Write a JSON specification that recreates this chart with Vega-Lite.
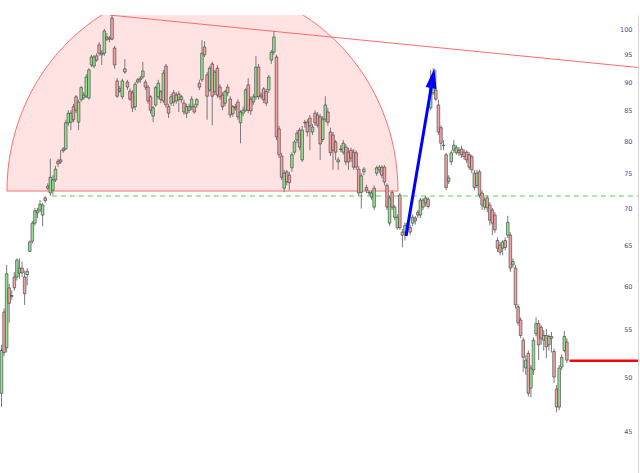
{
"$schema": "https://vega.github.io/schema/vega-lite/v6.json",
"width": 638, "height": 458,
"autosize": "none",
"padding": {"top": 15, "left": 0, "right": 2, "bottom": 0},
"background": "white",
"config": {"view": {"stroke": null},
"axisY": {"title": null, "ticks": false, "tickSize": 0, "grid": false, "domain": true, "domainColor": "#d4d4d4", "domainWidth": 1, "labelPadding": -6, "labelAlign": "right", "labelBaseline": "middle", "labelFontSize": 6.5, "labelFont": "DejaVu Sans", "labelColor": "#4848a8", "labelOverlap": false, "labelFlush": false}},
"datasets": {
"candles": [
{"t":1,"o":48.5,"h":53.4,"l":47.2,"c":52.8},
{"t":2,"o":57.0,"h":57.4,"l":52.2,"c":52.6},
{"t":3,"o":53.1,"h":62.6,"l":52.6,"c":61.5},
{"t":4,"o":59.8,"h":60.3,"l":55.8,"c":58.0},
{"t":5,"o":58.8,"h":59.5,"l":58.4,"c":58.9},
{"t":6,"o":61.1,"h":61.7,"l":59.5,"c":59.8},
{"t":7,"o":61.1,"h":63.4,"l":60.7,"c":63.2},
{"t":8,"o":61.6,"h":63.4,"l":60.9,"c":62.2},
{"t":9,"o":62.2,"h":63.0,"l":61.1,"c":61.6},
{"t":10,"o":61.1,"h":61.9,"l":57.8,"c":59.1},
{"t":11,"o":61.4,"h":62.2,"l":60.1,"c":61.8},
{"t":12,"o":64.3,"h":65.7,"l":64.2,"c":65.5},
{"t":13,"o":65.6,"h":68.3,"l":65.3,"c":68.0},
{"t":14,"o":68.0,"h":70.1,"l":67.7,"c":69.7},
{"t":15,"o":69.4,"h":70.1,"l":68.7,"c":69.7},
{"t":16,"o":69.8,"h":71.2,"l":69.5,"c":70.6},
{"t":17,"o":69.1,"h":70.8,"l":67.6,"c":70.5},
{"t":18,"o":71.5,"h":71.8,"l":70.8,"c":71.1},
{"t":19,"o":72.9,"h":73.6,"l":72.6,"c":73.2},
{"t":20,"o":72.2,"h":77.3,"l":71.8,"c":74.5},
{"t":21,"o":72.6,"h":74.8,"l":71.9,"c":74.1},
{"t":22,"o":74.1,"h":76.2,"l":73.8,"c":75.7},
{"t":23,"o":76.9,"h":77.3,"l":76.0,"c":76.5},
{"t":24,"o":77.1,"h":78.6,"l":76.5,"c":76.8},
{"t":25,"o":78.8,"h":79.1,"l":78.2,"c":78.5},
{"t":26,"o":78.8,"h":83.5,"l":78.6,"c":83.0},
{"t":27,"o":83.0,"h":85.1,"l":82.5,"c":84.6},
{"t":28,"o":83.1,"h":85.1,"l":81.8,"c":84.6},
{"t":29,"o":85.7,"h":86.2,"l":83.1,"c":83.5},
{"t":30,"o":87.4,"h":87.7,"l":84.6,"c":85.1},
{"t":31,"o":83.1,"h":86.9,"l":81.8,"c":86.5},
{"t":32,"o":86.9,"h":89.3,"l":86.5,"c":89.0},
{"t":33,"o":87.2,"h":88.2,"l":86.9,"c":87.7},
{"t":34,"o":87.5,"h":91.4,"l":87.2,"c":90.9},
{"t":35,"o":87.2,"h":92.5,"l":86.9,"c":92.2},
{"t":36,"o":93.1,"h":95.0,"l":92.7,"c":94.6},
{"t":37,"o":92.9,"h":95.0,"l":92.5,"c":94.6},
{"t":38,"o":94.8,"h":95.3,"l":93.7,"c":94.0},
{"t":39,"o":96.9,"h":97.4,"l":94.8,"c":95.3},
{"t":40,"o":95.0,"h":95.9,"l":93.1,"c":95.3},
{"t":41,"o":95.3,"h":100.0,"l":94.8,"c":99.6},
{"t":42,"o":98.4,"h":99.2,"l":97.6,"c":98.0},
{"t":43,"o":98.0,"h":98.6,"l":97.4,"c":98.2},
{"t":44,"o":102.2,"h":102.8,"l":97.8,"c":98.0},
{"t":45,"o":96.3,"h":96.7,"l":92.4,"c":93.1},
{"t":46,"o":90.2,"h":90.7,"l":87.2,"c":87.5},
{"t":47,"o":88.4,"h":89.3,"l":88.1,"c":88.8},
{"t":48,"o":87.4,"h":90.6,"l":87.0,"c":90.2},
{"t":49,"o":92.4,"h":94.2,"l":91.5,"c":91.8},
{"t":50,"o":90.0,"h":90.4,"l":88.6,"c":89.1},
{"t":51,"o":88.4,"h":88.9,"l":86.7,"c":87.0},
{"t":52,"o":88.1,"h":88.6,"l":84.8,"c":85.5},
{"t":53,"o":85.7,"h":90.0,"l":85.1,"c":89.6},
{"t":54,"o":90.0,"h":90.7,"l":89.7,"c":90.4},
{"t":55,"o":90.7,"h":91.1,"l":89.8,"c":90.4},
{"t":56,"o":90.9,"h":93.7,"l":90.6,"c":92.0},
{"t":57,"o":90.0,"h":90.4,"l":88.6,"c":89.1},
{"t":58,"o":89.1,"h":89.5,"l":86.2,"c":86.7},
{"t":59,"o":87.4,"h":87.7,"l":84.5,"c":85.1},
{"t":60,"o":84.1,"h":85.8,"l":83.1,"c":85.5},
{"t":61,"o":86.0,"h":89.3,"l":85.7,"c":89.0},
{"t":62,"o":87.4,"h":90.4,"l":87.0,"c":89.8},
{"t":63,"o":88.3,"h":88.6,"l":86.3,"c":86.9},
{"t":64,"o":86.7,"h":92.2,"l":86.3,"c":91.6},
{"t":65,"o":92.9,"h":93.3,"l":85.5,"c":86.0},
{"t":66,"o":85.7,"h":86.2,"l":83.8,"c":84.6},
{"t":67,"o":86.3,"h":87.9,"l":85.8,"c":87.4},
{"t":68,"o":88.1,"h":88.6,"l":85.8,"c":86.5},
{"t":69,"o":86.7,"h":88.2,"l":86.2,"c":87.7},
{"t":70,"o":87.9,"h":88.4,"l":84.8,"c":86.9},
{"t":71,"o":86.9,"h":87.7,"l":86.3,"c":87.4},
{"t":72,"o":86.3,"h":86.9,"l":84.3,"c":84.8},
{"t":73,"o":84.6,"h":86.2,"l":83.8,"c":85.7},
{"t":74,"o":85.1,"h":86.2,"l":84.6,"c":85.7},
{"t":75,"o":85.7,"h":87.5,"l":85.1,"c":87.0},
{"t":76,"o":85.7,"h":86.2,"l":84.5,"c":84.8},
{"t":77,"o":86.0,"h":87.2,"l":85.5,"c":86.9},
{"t":78,"o":89.8,"h":90.4,"l":88.6,"c":89.1},
{"t":79,"o":90.4,"h":97.8,"l":90.0,"c":95.3},
{"t":80,"o":96.5,"h":97.6,"l":94.6,"c":95.0},
{"t":81,"o":91.3,"h":91.8,"l":83.5,"c":87.5},
{"t":82,"o":88.6,"h":92.9,"l":88.3,"c":92.5},
{"t":83,"o":93.3,"h":93.7,"l":82.6,"c":87.5},
{"t":84,"o":88.3,"h":92.2,"l":87.7,"c":91.8},
{"t":85,"o":92.5,"h":93.1,"l":87.2,"c":87.7},
{"t":86,"o":89.1,"h":89.6,"l":86.9,"c":87.4},
{"t":87,"o":87.7,"h":88.2,"l":85.1,"c":85.7},
{"t":88,"o":86.3,"h":88.6,"l":85.8,"c":88.3},
{"t":89,"o":89.1,"h":89.6,"l":87.5,"c":88.1},
{"t":90,"o":87.0,"h":87.5,"l":83.8,"c":84.3},
{"t":91,"o":84.5,"h":86.0,"l":84.0,"c":85.7},
{"t":92,"o":85.7,"h":86.2,"l":85.0,"c":85.5},
{"t":93,"o":86.5,"h":87.0,"l":83.5,"c":84.0},
{"t":94,"o":83.0,"h":85.1,"l":79.7,"c":84.8},
{"t":95,"o":84.6,"h":85.7,"l":84.1,"c":85.1},
{"t":96,"o":85.1,"h":88.9,"l":84.8,"c":88.6},
{"t":97,"o":89.5,"h":90.7,"l":84.6,"c":85.1},
{"t":98,"o":87.0,"h":87.5,"l":84.3,"c":85.0},
{"t":99,"o":86.5,"h":87.9,"l":86.0,"c":87.4},
{"t":100,"o":87.4,"h":94.8,"l":86.9,"c":92.7},
{"t":101,"o":92.7,"h":93.3,"l":86.9,"c":87.4},
{"t":102,"o":87.4,"h":88.2,"l":87.0,"c":87.7},
{"t":103,"o":88.8,"h":89.1,"l":86.3,"c":86.9},
{"t":104,"o":88.3,"h":88.8,"l":85.8,"c":86.3},
{"t":105,"o":88.6,"h":91.3,"l":88.1,"c":90.9},
{"t":106,"o":94.0,"h":95.9,"l":93.3,"c":95.5},
{"t":107,"o":95.5,"h":99.6,"l":95.0,"c":98.4},
{"t":108,"o":94.6,"h":95.0,"l":80.2,"c":80.7},
{"t":109,"o":82.0,"h":82.5,"l":77.4,"c":77.9},
{"t":110,"o":77.7,"h":78.2,"l":74.1,"c":74.5},
{"t":111,"o":72.9,"h":75.6,"l":72.3,"c":75.1},
{"t":112,"o":75.3,"h":75.6,"l":73.3,"c":73.8},
{"t":113,"o":74.8,"h":75.3,"l":72.6,"c":73.7},
{"t":114,"o":75.9,"h":78.3,"l":75.3,"c":77.9},
{"t":115,"o":78.3,"h":80.2,"l":77.9,"c":79.9},
{"t":116,"o":80.2,"h":81.8,"l":79.7,"c":81.3},
{"t":117,"o":81.8,"h":82.2,"l":78.6,"c":79.1},
{"t":118,"o":77.1,"h":82.5,"l":76.8,"c":81.8},
{"t":119,"o":83.0,"h":83.5,"l":82.2,"c":83.1},
{"t":120,"o":83.1,"h":83.6,"l":80.8,"c":81.5},
{"t":121,"o":83.8,"h":84.3,"l":78.6,"c":82.5},
{"t":122,"o":81.5,"h":82.8,"l":81.0,"c":82.3},
{"t":123,"o":84.6,"h":85.1,"l":82.5,"c":83.0},
{"t":124,"o":84.3,"h":84.8,"l":82.2,"c":82.6},
{"t":125,"o":84.0,"h":84.5,"l":77.1,"c":79.6},
{"t":126,"o":80.3,"h":84.1,"l":79.9,"c":83.6},
{"t":127,"o":83.6,"h":87.5,"l":83.1,"c":86.0},
{"t":128,"o":84.8,"h":85.5,"l":82.5,"c":83.1},
{"t":129,"o":81.5,"h":82.2,"l":77.7,"c":78.2},
{"t":130,"o":81.0,"h":81.5,"l":75.6,"c":78.6},
{"t":131,"o":79.9,"h":80.2,"l":77.1,"c":78.3},
{"t":132,"o":76.8,"h":77.5,"l":75.6,"c":77.1},
{"t":133,"o":78.8,"h":79.4,"l":78.3,"c":78.7},
{"t":134,"o":78.3,"h":80.2,"l":77.9,"c":79.7},
{"t":135,"o":79.1,"h":79.6,"l":76.3,"c":76.8},
{"t":136,"o":78.3,"h":79.0,"l":75.6,"c":76.8},
{"t":137,"o":78.6,"h":79.0,"l":76.8,"c":77.4},
{"t":138,"o":78.3,"h":78.8,"l":75.6,"c":76.0},
{"t":139,"o":78.2,"h":78.6,"l":75.6,"c":76.0},
{"t":140,"o":75.7,"h":76.2,"l":71.8,"c":72.2},
{"t":141,"o":72.3,"h":75.1,"l":70.0,"c":74.7},
{"t":142,"o":75.3,"h":76.0,"l":74.8,"c":75.7},
{"t":143,"o":73.0,"h":73.4,"l":72.2,"c":72.6},
{"t":144,"o":72.2,"h":72.6,"l":71.8,"c":72.3},
{"t":145,"o":71.6,"h":72.6,"l":71.2,"c":72.2},
{"t":146,"o":70.2,"h":73.3,"l":69.8,"c":72.9},
{"t":147,"o":75.1,"h":76.2,"l":74.7,"c":75.9},
{"t":148,"o":75.6,"h":76.3,"l":75.1,"c":76.0},
{"t":149,"o":76.0,"h":76.3,"l":74.4,"c":74.8},
{"t":150,"o":76.0,"h":76.3,"l":73.3,"c":73.8},
{"t":151,"o":73.3,"h":73.6,"l":69.8,"c":70.2},
{"t":152,"o":68.0,"h":71.9,"l":67.6,"c":71.5},
{"t":153,"o":72.3,"h":72.6,"l":69.8,"c":70.2},
{"t":154,"o":68.8,"h":70.5,"l":68.4,"c":70.2},
{"t":155,"o":67.4,"h":69.2,"l":67.1,"c":68.8},
{"t":156,"o":71.9,"h":72.2,"l":67.1,"c":67.4},
{"t":157,"o":66.8,"h":67.2,"l":64.8,"c":66.4},
{"t":158,"o":66.8,"h":68.1,"l":65.7,"c":67.7},
{"t":159,"o":67.3,"h":68.4,"l":66.4,"c":68.0},
{"t":160,"o":67.4,"h":67.8,"l":66.4,"c":66.8},
{"t":161,"o":68.0,"h":69.2,"l":67.6,"c":68.8},
{"t":162,"o":68.7,"h":69.0,"l":67.8,"c":68.3},
{"t":163,"o":69.5,"h":69.8,"l":68.7,"c":69.1},
{"t":164,"o":69.1,"h":71.5,"l":68.7,"c":71.2},
{"t":165,"o":71.2,"h":71.5,"l":69.8,"c":70.2},
{"t":166,"o":70.8,"h":71.8,"l":70.3,"c":71.5},
{"t":167,"o":71.3,"h":71.6,"l":70.0,"c":70.3},
{"t":168,"o":85.5,"h":92.2,"l":85.1,"c":89.1},
{"t":169,"o":88.1,"h":92.5,"l":87.7,"c":89.1},
{"t":170,"o":88.6,"h":92.2,"l":86.7,"c":87.0},
{"t":171,"o":86.0,"h":86.9,"l":81.0,"c":81.5},
{"t":172,"o":82.2,"h":82.6,"l":78.6,"c":79.7},
{"t":173,"o":79.4,"h":80.2,"l":78.6,"c":79.3},
{"t":174,"o":77.9,"h":78.2,"l":72.6,"c":73.0},
{"t":175,"o":73.9,"h":74.8,"l":73.5,"c":74.4},
{"t":176,"o":76.8,"h":78.6,"l":76.3,"c":78.2},
{"t":177,"o":78.6,"h":80.2,"l":78.2,"c":79.4},
{"t":178,"o":78.2,"h":79.4,"l":77.9,"c":79.0},
{"t":179,"o":78.6,"h":79.1,"l":77.7,"c":78.2},
{"t":180,"o":78.8,"h":79.3,"l":77.4,"c":77.9},
{"t":181,"o":78.3,"h":78.8,"l":77.1,"c":77.6},
{"t":182,"o":78.3,"h":78.6,"l":76.6,"c":77.1},
{"t":183,"o":77.9,"h":78.3,"l":75.6,"c":76.0},
{"t":184,"o":77.6,"h":77.9,"l":75.1,"c":75.6},
{"t":185,"o":75.1,"h":75.6,"l":72.6,"c":73.0},
{"t":186,"o":73.3,"h":75.6,"l":72.9,"c":75.1},
{"t":187,"o":75.3,"h":75.6,"l":71.5,"c":71.9},
{"t":188,"o":72.2,"h":72.6,"l":69.8,"c":70.5},
{"t":189,"o":70.2,"h":71.6,"l":69.8,"c":71.2},
{"t":190,"o":71.5,"h":71.9,"l":69.5,"c":70.1},
{"t":191,"o":70.5,"h":70.9,"l":67.7,"c":68.4},
{"t":192,"o":69.8,"h":70.1,"l":66.4,"c":68.0},
{"t":193,"o":69.1,"h":69.5,"l":66.7,"c":67.1},
{"t":194,"o":65.7,"h":66.1,"l":64.2,"c":64.7},
{"t":195,"o":65.1,"h":65.5,"l":63.8,"c":64.2},
{"t":196,"o":64.7,"h":65.7,"l":63.8,"c":65.5},
{"t":197,"o":65.7,"h":66.1,"l":64.4,"c":64.8},
{"t":198,"o":66.4,"h":69.0,"l":66.0,"c":68.1},
{"t":199,"o":66.4,"h":66.8,"l":61.7,"c":62.2},
{"t":200,"o":62.6,"h":63.4,"l":62.2,"c":63.0},
{"t":201,"o":62.2,"h":62.6,"l":57.4,"c":57.8},
{"t":202,"o":57.6,"h":57.9,"l":55.5,"c":55.8},
{"t":203,"o":56.1,"h":56.4,"l":54.1,"c":54.4},
{"t":204,"o":53.9,"h":54.2,"l":50.6,"c":52.1},
{"t":205,"o":51.0,"h":52.3,"l":50.3,"c":51.8},
{"t":206,"o":52.5,"h":52.8,"l":48.2,"c":48.5},
{"t":207,"o":49.0,"h":51.3,"l":48.1,"c":51.0},
{"t":208,"o":50.8,"h":54.2,"l":50.3,"c":53.9},
{"t":209,"o":54.6,"h":56.4,"l":54.3,"c":55.7},
{"t":210,"o":55.7,"h":56.1,"l":51.8,"c":53.4},
{"t":211,"o":55.3,"h":55.5,"l":53.4,"c":54.1},
{"t":212,"o":53.9,"h":55.0,"l":52.8,"c":54.4},
{"t":213,"o":54.4,"h":55.1,"l":52.0,"c":53.2},
{"t":214,"o":53.4,"h":54.5,"l":52.8,"c":54.3},
{"t":215,"o":54.3,"h":54.8,"l":52.6,"c":54.1},
{"t":216,"o":52.7,"h":53.0,"l":49.5,"c":50.1},
{"t":217,"o":48.9,"h":49.3,"l":46.7,"c":47.2},
{"t":218,"o":47.2,"h":51.3,"l":46.9,"c":51.0},
{"t":219,"o":51.1,"h":52.4,"l":50.8,"c":52.1},
{"t":220,"o":52.8,"h":54.9,"l":52.6,"c":54.3},
{"t":221,"o":53.7,"h":54.1,"l":51.5,"c":51.8}
],
"arc": [{"t": 79.2, "p": 72.48}],
"dashed": [{"t": 20.6, "p": 71.77}, {"t": 248.67, "p": 71.77}],
"trend": [{"t": 43.2, "p": 102.8}, {"t": 248.67, "p": 92.64}],
"arrow": [{"t": 158.4, "p": 66.3}, {"t": 168.3, "p": 89.3}],
"head": [{"t": 168.8, "p": 90.7}],
"last": [{"t": 222, "p": 51.75}, {"t": 248.67, "p": 51.75}]
},
"layer": [
{
"data": {"name": "arc"},
"mark": {"type": "point", "shape": "M-1,0 A1,1.05 0 0,1 1,0 Z", "size": 152881, "filled": true, "fill": "#ffe2e2", "stroke": "#ff7070", "strokeWidth": 1, "opacity": 1, "clip": true},
"encoding": {
"x": {"field": "t", "type": "quantitative", "scale": {"domain": [0.416, 248.67], "nice": false, "zero": false, "padding": 0}, "axis": null},
"y": {"field": "p", "type": "quantitative", "scale": {"type": "log", "domain": [41.4, 102.82], "nice": false, "zero": false, "padding": 0},
"axis": {"orient": "right", "title": null, "values": [45, 50, 55, 60, 65, 70, 75, 80, 85, 90, 95, 100], "format": "d"}}
}
},
{
"data": {"name": "dashed"},
"mark": {"type": "line", "color": "#52d452", "strokeWidth": 1, "strokeDash": [5, 4], "clip": true},
"encoding": {"x": {"field": "t", "type": "quantitative", "axis": null}, "y": {"field": "p", "type": "quantitative", "axis": {"orient": "right", "title": null, "values": [45, 50, 55, 60, 65, 70, 75, 80, 85, 90, 95, 100], "format": "d"}}}
},
{
"data": {"name": "trend"},
"mark": {"type": "line", "color": "#ff6a6a", "strokeWidth": 1, "clip": true},
"encoding": {"x": {"field": "t", "type": "quantitative", "axis": null}, "y": {"field": "p", "type": "quantitative", "axis": {"orient": "right", "title": null, "values": [45, 50, 55, 60, 65, 70, 75, 80, 85, 90, 95, 100], "format": "d"}}}
},
{
"data": {"name": "candles"},
"mark": {"type": "rule", "color": "#7a7a7a", "strokeWidth": 1, "clip": true},
"encoding": {"x": {"field": "t", "type": "quantitative", "axis": null}, "y": {"field": "l", "type": "quantitative", "axis": {"orient": "right", "title": null, "values": [45, 50, 55, 60, 65, 70, 75, 80, 85, 90, 95, 100], "format": "d"}}, "y2": {"field": "h"}}
},
{
"data": {"name": "candles"},
"mark": {"type": "bar", "size": 2.6, "stroke": "#3a3a3a", "strokeWidth": 0.6, "clip": true},
"encoding": {
"x": {"field": "t", "type": "quantitative", "axis": null},
"y": {"field": "o", "type": "quantitative", "axis": {"orient": "right", "title": null, "values": [45, 50, 55, 60, 65, 70, 75, 80, 85, 90, 95, 100], "format": "d"}}, "y2": {"field": "c"},
"color": {"condition": {"test": "datum.c >= datum.o", "value": "#8fe08f"}, "value": "#f2a2a2"}
}
},
{
"data": {"name": "arrow"},
"mark": {"type": "line", "color": "#0000ff", "strokeWidth": 3, "clip": true},
"encoding": {"x": {"field": "t", "type": "quantitative", "axis": null}, "y": {"field": "p", "type": "quantitative", "axis": {"orient": "right", "title": null, "values": [45, 50, 55, 60, 65, 70, 75, 80, 85, 90, 95, 100], "format": "d"}}}
},
{
"data": {"name": "head"},
"mark": {"type": "point", "shape": "M0,-1L0.55,1L-0.55,1Z", "size": 400, "angle": 9.5, "filled": true, "color": "#0000ff", "opacity": 1},
"encoding": {"x": {"field": "t", "type": "quantitative", "axis": null}, "y": {"field": "p", "type": "quantitative", "axis": {"orient": "right", "title": null, "values": [45, 50, 55, 60, 65, 70, 75, 80, 85, 90, 95, 100], "format": "d"}}}
},
{
"data": {"name": "last"},
"mark": {"type": "line", "color": "#ff0000", "strokeWidth": 2.5, "clip": true},
"encoding": {"x": {"field": "t", "type": "quantitative", "axis": null}, "y": {"field": "p", "type": "quantitative", "axis": {"orient": "right", "title": null, "values": [45, 50, 55, 60, 65, 70, 75, 80, 85, 90, 95, 100], "format": "d"}}}
}
]
}
